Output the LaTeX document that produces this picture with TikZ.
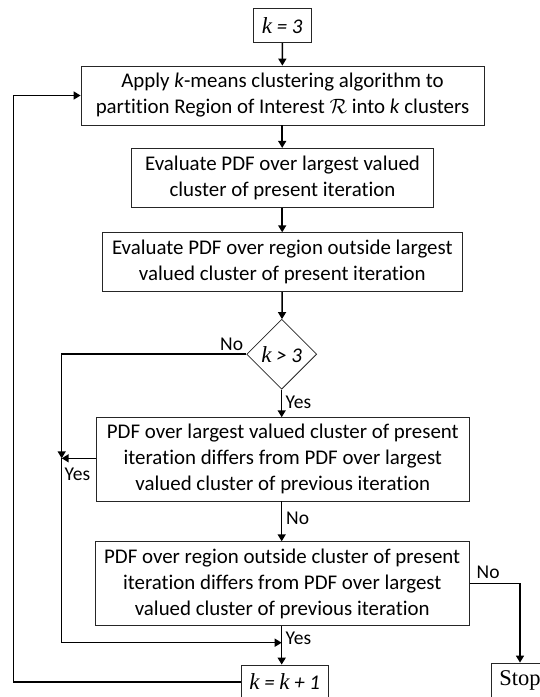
\documentclass[tikz,border=0pt]{standalone}
\usepackage{fontspec}
\setmainfont{Carlito}[Ligatures={NoCommon}]
\newfontfamily\stopfont{Liberation Serif}
\newfontfamily\kfont{Liberation Serif}
\usetikzlibrary{shapes.geometric,arrows.meta}
\tikzset{
  x=1pt, y=-1pt,
  every node/.style={font=\fontsize{20.9}{26}\selectfont},
  procbox/.style={draw=black!85, line width=0.8pt, align=center, inner sep=0pt},
  decision/.style={draw=black!85, diamond, line width=0.8pt, inner sep=0pt, minimum width=70pt, minimum height=70pt},
  flow/.style={line width=1.5pt, -{Triangle[length=7pt,width=8pt]}},
  lbl/.style={font=\fontsize{19.5}{22}\selectfont, inner sep=0pt}
}
% italic variable k set in a serif face
\newcommand{\kv}{{\kfont\itshape\fontsize{23}{26}\selectfont k}}
\begin{document}
\begin{tikzpicture}
\useasboundingbox (0,0) rectangle (540,697);
\clip (0,0) rectangle (540,697);

% process boxes
\node[procbox, minimum width=57.7pt, minimum height=34.4pt] (k3) at (282.2,25.5) {\kv\ \textit{= 3}};
\node[procbox, minimum width=403pt, minimum height=59pt] (apply) at (282.5,95.5)
  {Apply \textit{k}-means clustering algorithm to\\partition Region of Interest \(\mathcal{R}\) into \textit{k} clusters};
\node[procbox, minimum width=301.6pt, minimum height=59pt] (eval1) at (282.5,177.8)
  {Evaluate PDF over largest valued\\cluster of present iteration};
\node[procbox, minimum width=360pt, minimum height=59pt] (eval2) at (282.3,262.2)
  {Evaluate PDF over region outside largest\\valued cluster of present iteration};
\node[decision] (dia) at (281.7,354.2) {\kv\ \textit{> 3}};
\node[procbox, minimum width=372.3pt, minimum height=83.3pt] (pdf1) at (282.8,459.3)
  {PDF over largest valued cluster of present\\iteration differs from PDF over largest\\valued cluster of previous iteration};
\node[procbox, minimum width=374.3pt, minimum height=84pt] (pdf2) at (282.2,583.7)
  {PDF over region outside cluster of present\\iteration differs from PDF over largest\\valued cluster of previous iteration};
\node[procbox, minimum width=87.3pt, minimum height=34pt] (kk1) at (284.7,682) {\kv\ \textit{=} \kv\ \textit{+ 1}};
\node[procbox, minimum width=57pt, minimum height=34pt, align=left] (stop) at (520,680)
  {\stopfont\fontsize{22.5}{26}\selectfont Stop};

% junction points
\coordinate (ja) at (61.7,458.3);
\coordinate (jb) at (281.7,642.7);

% connectors
\draw[flow] (k3) -- (apply);
\draw[flow] (apply.south -| k3) -- (eval1.north -| k3);
\draw[flow] (eval1.south -| k3) -- (eval2.north -| k3);
\draw[flow] (eval2.south -| k3) -- (dia);
\draw[flow] (dia) -- (pdf1.north -| dia);
\draw[flow] (dia.west) -| (ja);
\draw[flow] (pdf1.west |- ja) -- (ja);
\draw[flow] (ja) |- (jb);
\draw[flow] (pdf1.south -| dia) -- (pdf2.north -| dia);
\draw[flow] (pdf2.south -| dia) -- (kk1.north -| dia);
\draw[flow] (pdf2.east) -| (stop.north);
\draw[flow] (kk1.west) -- (13.3,682) |- (apply.west);

% branch labels
\node[lbl, anchor=south west] at (220,351) {No};
\node[lbl, anchor=south west] at (285.5,409) {Yes};
\node[lbl, anchor=south west] at (64.5,481) {Yes};
\node[lbl, anchor=south west] at (286,524.5) {No};
\node[lbl, anchor=south west] at (476.5,578.5) {No};
\node[lbl, anchor=south west] at (285.5,644.5) {Yes};
\end{tikzpicture}
\end{document}
